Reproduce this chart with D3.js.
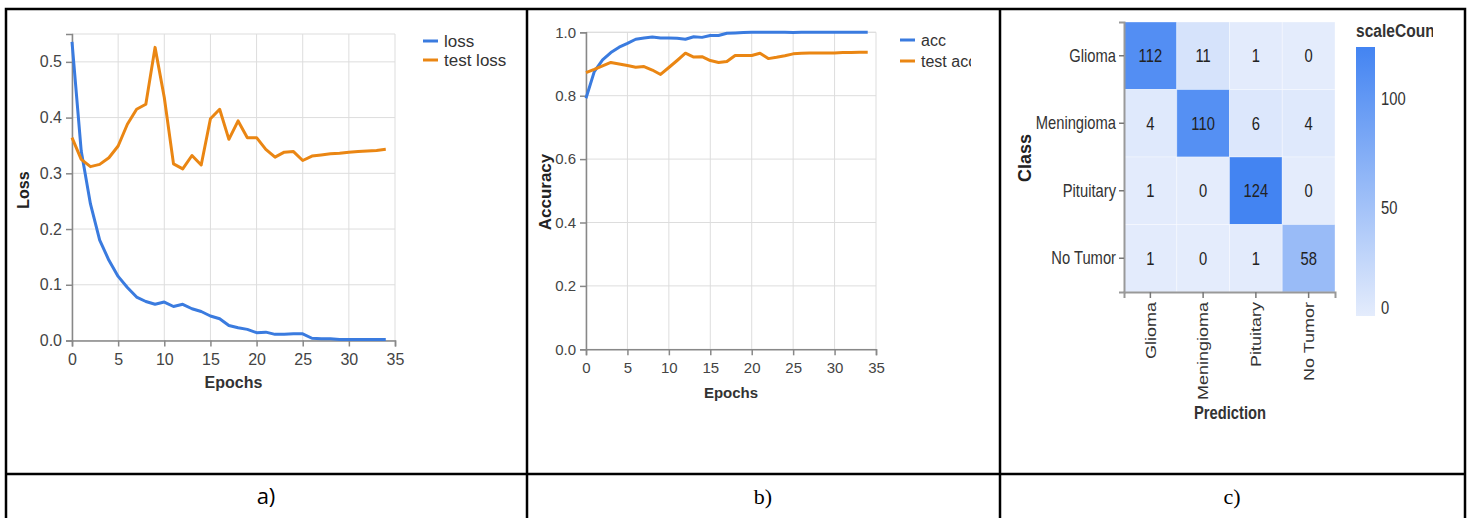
<!DOCTYPE html>
<html>
<head>
<meta charset="utf-8">
<script src="https://cdn.jsdelivr.net/npm/d3@7"></script>
<style>
body{margin:0;background:#fff}
svg{display:block}
</style>
</head>
<body>
<svg id="main_svg" width="1470" height="518"></svg>
<script>
// values
const loss = [0.536,0.34,0.245,0.18,0.144,0.115,0.095,0.078,0.07,0.065,0.069,0.061,0.065,0.057,0.052,0.044,0.039,0.027,0.023,0.02,0.014,0.015,0.011,0.011,0.012,0.012,0.004,0.003,0.003,0.002,0.002,0.002,0.002,0.002,0.002]
const testLoss = [0.364,0.325,0.312,0.316,0.328,0.349,0.388,0.415,0.424,0.526,0.436,0.317,0.308,0.332,0.315,0.398,0.415,0.361,0.394,0.364,0.364,0.343,0.329,0.338,0.339,0.323,0.331,0.333,0.335,0.336,0.338,0.339,0.34,0.341,0.343]
const acc = [0.792,0.876,0.913,0.936,0.953,0.965,0.978,0.982,0.985,0.982,0.982,0.981,0.978,0.986,0.984,0.99,0.99,0.997,0.998,0.999,1,1,1,1,1,0.999,1,1,1,1,1,1,1,1,1]
const testAcc = [0.873,0.883,0.894,0.905,0.9,0.895,0.89,0.892,0.881,0.867,0.889,0.911,0.934,0.922,0.923,0.911,0.905,0.908,0.927,0.927,0.927,0.934,0.917,0.921,0.926,0.932,0.934,0.935,0.935,0.935,0.935,0.936,0.936,0.937,0.937]
const epochTicks = [0,5,10,15,20,25,30,35]
const lossTicks = [0,0.1,0.2,0.3,0.4,0.5]
const accTicks = [0,0.2,0.4,0.6,0.8,1.0]

const classes = ["Glioma","Meningioma","Pituitary","No Tumor"]
const counts = [
    [112,11,1,0],
    [4,110,6,4],
    [1,0,124,0],
    [1,0,1,58]
]
const countTicks = [0,50,100]
const panelLabels = ["a)","b)","c)"]

const blue = "#3a7bdf", orange = "#ea8613"
const sans = "'Liberation Sans', Arial, sans-serif"
const squeeze = 0.82   // panel c text is horizontally squashed in the picture
const svg = d3.select("#main_svg")
const defs = svg.append("defs")

function clip(id, x, w){
    defs.append("clipPath").attr("id", id)
        .append("rect").attr("x", x).attr("y", 0).attr("width", w).attr("height", 470)
}
clip("clip_a", 0, 507)
clip("clip_b", 530, 441)
clip("clip_c", 1002, 431)

function line_chart(opt){
    const g = svg.append("g").attr("clip-path", "url(#"+opt.clip+")")
    const x = d3.scaleLinear().domain([0,35]).range(opt.xr)
    const y = d3.scaleLinear().domain(opt.yd).range(opt.yr)
    const fs = opt.fs

    // grid
    const grid = g.append("g").attr("stroke", "#ddd").attr("stroke-width", 1)
    grid.selectAll(".vg").data(epochTicks).join("line")
        .attr("x1", d=>x(d)).attr("x2", d=>x(d)).attr("y1", opt.yr[0]).attr("y2", opt.yr[1])
    grid.selectAll(".hg").data(opt.yt.concat([opt.yd[1]])).join("line")
        .attr("x1", opt.xr[0]).attr("x2", opt.xr[1]).attr("y1", d=>y(d)).attr("y2", d=>y(d))

    const xa = g.append("g").attr("transform", "translate(0,"+opt.yr[0]+")")
        .call(d3.axisBottom(x).tickValues(epochTicks).tickSize(6).tickPadding(4))
    const ya = g.append("g").attr("transform", "translate("+opt.xr[0]+",0)")
        .call(d3.axisLeft(y).tickValues(opt.yt).tickFormat(d3.format(".1f")).tickSize(6).tickPadding(4))
    for(const a of [xa, ya]){
        a.attr("font-size", fs).attr("font-family", sans)
        a.select(".domain").attr("stroke", "#888").attr("stroke-width", 1.5)
        a.selectAll(".tick line").attr("stroke", "#888").attr("stroke-width", 1.5)
        a.selectAll("text").attr("fill", "#444")
    }
    xa.selectAll("text").attr("dy", "0.9em")

    g.append("text").attr("x", (opt.xr[0]+opt.xr[1])/2).attr("y", opt.xt)
        .attr("text-anchor", "middle").attr("font-weight", "bold").attr("font-size", fs)
        .attr("font-family", sans).attr("fill", "#333")
        .text("Epochs")
    g.append("text").attr("transform", "translate("+opt.yt_x+","+opt.yt_y+") rotate(-90)")
        .attr("text-anchor", "middle").attr("font-weight", "bold").attr("font-size", opt.yfs)
        .attr("font-family", sans).attr("fill", "#222")
        .text(opt.ytitle)

    const ln = d3.line().x((d,i)=>x(i)).y(d=>y(d))
    opt.series.forEach((s, k)=>{
        g.append("path").datum(s.values).attr("d", ln)
            .attr("fill", "none").attr("stroke", s.color).attr("stroke-width", 3)
            .attr("stroke-linejoin", "round")
        const ly = opt.leg_y[k]
        g.append("line").attr("x1", opt.leg_x).attr("x2", opt.leg_x+15).attr("y1", ly).attr("y2", ly)
            .attr("stroke", s.color).attr("stroke-width", 3)
        g.append("text").attr("x", opt.leg_x+21).attr("y", ly).attr("dy", "0.35em")
            .attr("font-size", opt.lfs).attr("fill", "#333")
            .attr("font-family", sans).text(s.name)
    })
}

line_chart({
    clip: "clip_a", xr: [72,395], yr: [340.5,34], yd: [0,0.55], yt: lossTicks, fs: 16, yfs: 16,
    xt: 388, yt_x: 29, yt_y: 190, ytitle: "Loss",
    leg_x: 423, leg_y: [41,60], lfs: 17,
    series: [{name: "loss", values: loss, color: blue}, {name: "test loss", values: testLoss, color: orange}]
})
line_chart({
    clip: "clip_b", xr: [586,876], yr: [349.3,32.3], yd: [0,1], yt: accTicks, fs: 15, yfs: 17,
    xt: 398, yt_x: 551, yt_y: 192, ytitle: "Accuracy",
    leg_x: 900, leg_y: [40,61], lfs: 16,
    series: [{name: "acc", values: acc, color: blue}, {name: "test acc", values: testAcc, color: orange}]
})

// confusion matrix
const gc = svg.append("g").attr("clip-path", "url(#clip_c)")
const xb = d3.scaleBand().domain(classes).range([1124,1335])
const yb = d3.scaleBand().domain(classes).range([22,292])
const col = d3.scaleLinear().domain([0,124]).range(["#e4ecfc","#4384f2"])

// squashed horizontal text placed at (x,y)
function stext(sel, x, y){
    return sel.attr("transform", (d,i)=>"translate("+x(d,i)+","+y(d,i)+") scale("+squeeze+",1)")
        .attr("font-family", sans)
}

const cells = []
counts.forEach((row, r)=>row.forEach((v, c)=>cells.push({row: classes[r], col: classes[c], v: v})))
gc.selectAll(".cell").data(cells).join("rect")
    .attr("x", d=>xb(d.col)).attr("y", d=>yb(d.row))
    .attr("width", xb.bandwidth()).attr("height", yb.bandwidth())
    .attr("fill", d=>col(d.v)).attr("stroke", "#fff").attr("stroke-opacity", 0.35)
stext(gc.selectAll(".lab").data(cells).join("text"),
        d=>xb(d.col)+xb.bandwidth()/2, d=>yb(d.row)+yb.bandwidth()/2)
    .attr("dy", "0.36em").attr("text-anchor", "middle")
    .attr("font-size", 18).attr("fill", "#222")
    .text(d=>d.v)

const ax = gc.append("g").attr("transform", "translate(0,292)")
    .call(d3.axisBottom(xb).tickSize(6).tickPadding(4))
const ay = gc.append("g").attr("transform", "translate(1124,0)")
    .call(d3.axisLeft(yb).tickSize(5).tickPadding(3))
for(const a of [ax, ay]){
    a.attr("font-size", 18).attr("font-family", sans)
    a.select(".domain").attr("stroke", "#999").attr("stroke-width", 2)
    a.selectAll(".tick line").attr("stroke", "#777").attr("stroke-width", 1.5)
    a.selectAll("text").attr("fill", "#333")
}
ay.selectAll("text").attr("x", -8/squeeze).attr("transform", "scale("+squeeze+",1)")
ax.selectAll("text").attr("text-anchor", "end")
    .attr("transform", "rotate(-90) scale(1,"+squeeze+")")
    .attr("x", -10).attr("y", 0).attr("dy", "0.35em")

gc.append("text").attr("transform", "translate(1025,158) rotate(-90)")
    .attr("text-anchor", "middle").attr("dy", "0.35em").attr("font-weight", "bold")
    .attr("font-size", 18).attr("font-family", sans).attr("fill", "#222")
    .text("Class")
stext(gc.append("text").datum("Prediction"), ()=>1230, ()=>413)
    .attr("dy", "0.35em").attr("text-anchor", "middle").attr("font-weight", "bold")
    .attr("font-size", 18).attr("fill", "#333")
    .text(d=>d)

// colour legend
const grad = defs.append("linearGradient").attr("id", "grad")
    .attr("x1", 0).attr("x2", 0).attr("y1", 1).attr("y2", 0)
grad.selectAll("stop").data(col.domain()).join("stop")
    .attr("offset", d=>d/124).attr("stop-color", d=>col(d))
const ly = d3.scaleLinear().domain([0,124]).range([316,47])
gc.append("rect").attr("x", 1356).attr("y", 47).attr("width", 19).attr("height", 269)
    .attr("fill", "url(#grad)")
stext(gc.selectAll(".leg").data(countTicks).join("text"), ()=>1381, d=>ly(d))
    .attr("dy", d=>d===0 ? "-0.1em" : "0.35em")
    .attr("font-size", 18).attr("fill", "#333")
    .text(d=>d)
stext(gc.append("text").datum("scaleCount"), ()=>1356, ()=>30)
    .attr("dy", "0.35em").attr("font-weight", "bold").attr("font-size", 19).attr("fill", "#333")
    .text(d=>d)

// table frame
const frame = svg.append("g").attr("stroke", "#000").attr("stroke-width", 2.5).attr("fill", "none")
frame.append("rect").attr("x", 6).attr("y", 9).attr("width", 1459).attr("height", 520)
for(const xv of [527,1000]){
    frame.append("line").attr("x1", xv).attr("x2", xv).attr("y1", 9).attr("y2", 518)
}
frame.append("line").attr("x1", 6).attr("x2", 1465).attr("y1", 474).attr("y2", 474)

const labX = [266,763,1232]
svg.selectAll(".plab").data(panelLabels).join("text")
    .attr("x", (d,i)=>labX[i]).attr("y", 496).attr("dy", "0.35em").attr("text-anchor", "middle")
    .attr("font-size", 22)
    .attr("font-family", (d,i)=>i===0 ? "'Open Sans', 'Liberation Sans', sans-serif" : "'Liberation Serif', 'Times New Roman', serif")
    .attr("fill", "#000")
    .text(d=>d)
</script>
</body>
</html>
